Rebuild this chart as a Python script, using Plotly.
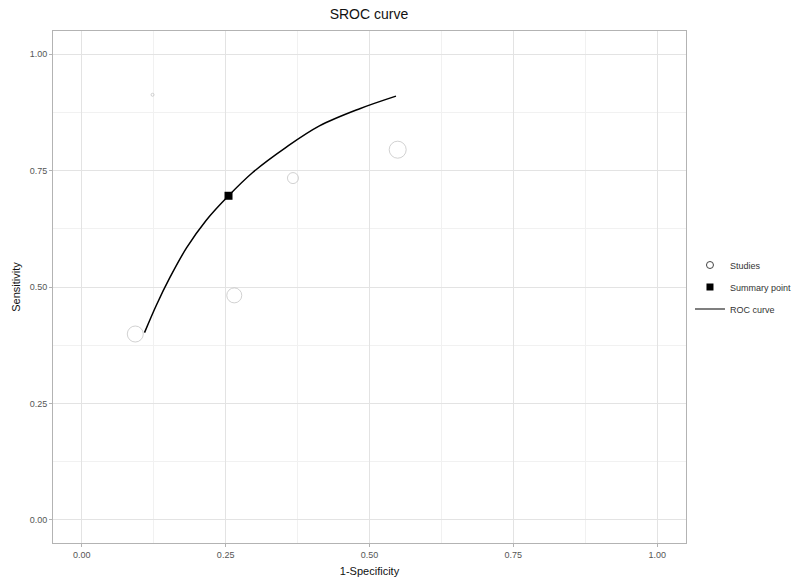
import plotly.graph_objects as go

# Study points (1-specificity, sensitivity, relative weight -> marker size)
study_fpr = [0.123, 0.093, 0.265, 0.367, 0.549]
study_sens = [0.913, 0.399, 0.482, 0.734, 0.795]
study_size = [3, 16, 15, 11, 17]

# Summary point
summary_fpr = [0.255]
summary_sens = [0.696]

# SROC curve points
roc_fpr = [0.109, 0.130, 0.153, 0.182, 0.216, 0.255, 0.297, 0.355, 0.413, 0.483, 0.546]
roc_sens = [0.402, 0.462, 0.520, 0.584, 0.643, 0.696, 0.746, 0.800, 0.846, 0.883, 0.910]

tick_vals = [0, 0.25, 0.5, 0.75, 1.0]
tick_text = ["0.00", "0.25", "0.50", "0.75", "1.00"]

FONT = "Liberation Sans, Arial, sans-serif"

fig = go.Figure()

fig.add_trace(go.Scatter(
    x=roc_fpr, y=roc_sens, mode="lines",
    line=dict(color="black", width=1.5, shape="spline", smoothing=1.0),
    showlegend=False, hoverinfo="skip"))
fig.add_trace(go.Scatter(
    x=study_fpr, y=study_sens, mode="markers",
    marker=dict(symbol="circle-open", size=study_size, color="#bdbdbd", line=dict(width=1, color="#bdbdbd")),
    showlegend=False))
fig.add_trace(go.Scatter(
    x=summary_fpr, y=summary_sens, mode="markers",
    marker=dict(symbol="square", size=8, color="black"), showlegend=False))

# legend entries
fig.add_trace(go.Scatter(x=[None], y=[None], mode="markers", name="Studies", legendgroup="a",
                         marker=dict(symbol="circle-open", size=7, color="#444444", line=dict(width=1))))
fig.add_trace(go.Scatter(x=[None], y=[None], mode="markers", name="Summary point", legendgroup="b",
                         marker=dict(symbol="square", size=7, color="black")))
fig.add_trace(go.Scatter(x=[None], y=[None], mode="lines", name="ROC curve", legendgroup="c",
                         line=dict(color="black", width=1.2)))

axis_common = dict(
    range=[-0.05, 1.05], tickvals=tick_vals, ticktext=tick_text,
    showgrid=True, gridcolor="#e3e3e3", gridwidth=1,
    minor=dict(tickvals=[0.125, 0.375, 0.625, 0.875], showgrid=True, gridcolor="#f1f1f1", gridwidth=1),
    showline=True, linecolor="#b3b3b3", linewidth=1, mirror=True,
    ticks="outside", ticklen=3, tickcolor="#b3b3b3", tickwidth=1,
    tickfont=dict(family=FONT, size=9, color="#555555"),
    zeroline=False, automargin=False,
)

fig.update_xaxes(**axis_common, title=dict(text="1-Specificity", font=dict(family=FONT, size=11, color="#111111"), standoff=8))
fig.update_yaxes(**axis_common, title=dict(text="Sensitivity", font=dict(family=FONT, size=11, color="#111111"), standoff=6))

fig.update_layout(
    width=801, height=581,
    margin=dict(l=53, r=115, t=31, b=38, autoexpand=False),
    plot_bgcolor="white", paper_bgcolor="white",
    title=dict(text="SROC curve", x=0.4606, xanchor="center", y=0.984, yanchor="top",
               font=dict(family=FONT, size=14, color="#111111")),
    legend=dict(xref="container", yref="container", x=0.8614, xanchor="left",
                y=0.506, yanchor="middle", tracegroupgap=3,
                font=dict(family=FONT, size=9, color="#333333"), bgcolor="rgba(0,0,0,0)"),
    font=dict(family=FONT),
)

fig.write_html("out.html")
